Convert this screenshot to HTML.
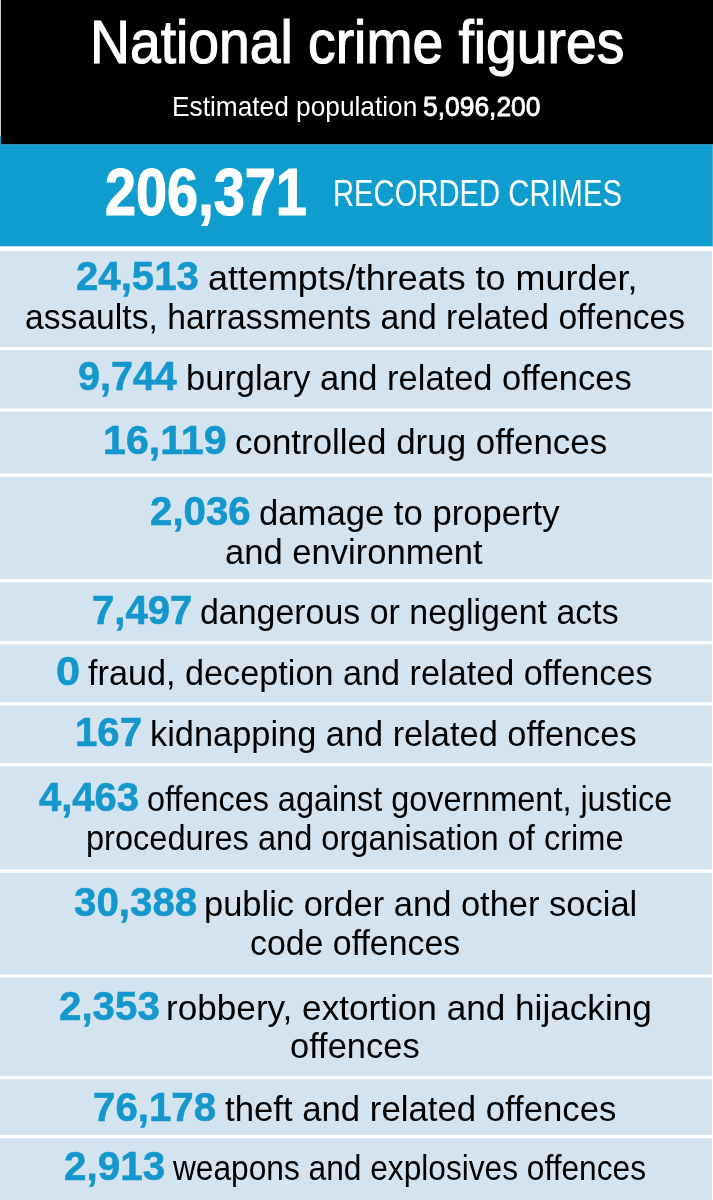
<!DOCTYPE html>
<html><head><meta charset="utf-8"><title>National crime figures</title>
<style>
html,body{margin:0;padding:0;}
body{width:713px;height:1200px;position:relative;overflow:hidden;background:#d3e3f0;font-family:"Liberation Sans",sans-serif;}
svg.bg{position:absolute;left:0;top:0;}
#t{position:absolute;left:0;top:0;width:713px;height:1200px;will-change:transform;}
</style></head><body>
<svg class="bg" width="713" height="1200" viewBox="0 0 713 1200">
<rect x="0" y="0" width="713" height="144.5" fill="#000"/>
<rect x="0" y="0" width="1" height="136" fill="#d0d0d0"/>
<rect x="0" y="136" width="1" height="8.5" fill="#0f9dcf"/>
<rect x="0" y="144.5" width="713" height="102" fill="#0f9dcf"/>
<rect x="0" y="145" width="713" height="1" fill="#0aabd5"/>
<rect x="712" y="144.5" width="1" height="102" fill="#4ab0d8"/>
<rect x="0" y="246.5" width="713" height="4.4" fill="#fff"/>
<rect x="712" y="250" width="1" height="950" fill="#fff"/>
<g fill="#fff">
<rect x="0" y="347" width="713" height="3"/>
<rect x="0" y="408.5" width="713" height="3"/>
<rect x="0" y="473.6" width="713" height="3.1"/>
<rect x="0" y="579" width="713" height="3.3"/>
<rect x="0" y="641.1" width="713" height="3.3"/>
<rect x="0" y="702.2" width="713" height="3.2"/>
<rect x="0" y="763.1" width="713" height="3.2"/>
<rect x="0" y="869.5" width="713" height="3.3"/>
<rect x="0" y="974.4" width="713" height="3.1"/>
<rect x="0" y="1076.1" width="713" height="3.2"/>
<rect x="0" y="1134.8" width="713" height="3.4"/>
</g>
</svg>
<div id="t">
<div style="position:absolute;left:90.38px;top:12.01px;font-size:61px;line-height:61px;font-weight:normal;color:#fff;-webkit-text-stroke:1.2px #fff;white-space:pre;transform-origin:0 0;transform:scaleX(0.9058)">National crime figures</div>
<div style="position:absolute;left:172.12px;top:92.67px;font-size:28px;line-height:28px;font-weight:normal;color:#fff;white-space:pre;transform-origin:0 0;transform:scaleX(0.9380)">Estimated population</div>
<div style="position:absolute;left:423.06px;top:92.89px;font-size:28px;line-height:28px;font-weight:normal;color:#fff;-webkit-text-stroke:0.8px #fff;white-space:pre;transform-origin:0 0;transform:scaleX(0.9431)">5,096,200</div>
<div style="position:absolute;left:105.32px;top:158.94px;font-size:66.5px;line-height:66.5px;font-weight:bold;color:#fff;-webkit-text-stroke:1.2px #fff;white-space:pre;transform-origin:0 0;transform:scaleX(0.8397)">206,371</div>
<div style="position:absolute;left:332.63px;top:174.67px;font-size:37px;line-height:37px;font-weight:normal;color:#fff;white-space:pre;transform-origin:0 0;transform:scaleX(0.7895)">RECORDED CRIMES</div>
<div style="position:absolute;left:76.03px;top:254.57px;font-size:41.5px;line-height:41.5px;font-weight:bold;color:#1497cc;-webkit-text-stroke:0.6px #1497cc;white-space:pre;transform-origin:0 0;transform:scaleX(0.9680)">24,513</div>
<div style="position:absolute;left:207.97px;top:259.67px;font-size:35px;line-height:35px;font-weight:normal;color:#000;white-space:pre;transform-origin:0 0;transform:scaleX(1.0266)">attempts/threats to murder,</div>
<div style="position:absolute;left:25.04px;top:299.17px;font-size:35px;line-height:35px;font-weight:normal;color:#000;white-space:pre;transform-origin:0 0;transform:scaleX(0.9620)">assaults, harrassments and related offences</div>
<div style="position:absolute;left:78.05px;top:355.27px;font-size:41.5px;line-height:41.5px;font-weight:bold;color:#1497cc;-webkit-text-stroke:0.6px #1497cc;white-space:pre;transform-origin:0 0;transform:scaleX(0.9515)">9,744</div>
<div style="position:absolute;left:186.03px;top:360.37px;font-size:35px;line-height:35px;font-weight:normal;color:#000;white-space:pre;transform-origin:0 0;transform:scaleX(0.9844)">burglary and related offences</div>
<div style="position:absolute;left:103.02px;top:418.57px;font-size:41.5px;line-height:41.5px;font-weight:bold;color:#1497cc;-webkit-text-stroke:0.6px #1497cc;white-space:pre;transform-origin:0 0;transform:scaleX(0.9917)">16,119</div>
<div style="position:absolute;left:234.70px;top:423.67px;font-size:35px;line-height:35px;font-weight:normal;color:#000;white-space:pre;transform-origin:0 0;transform:scaleX(0.9981)">controlled drug offences</div>
<div style="position:absolute;left:150.33px;top:489.57px;font-size:41.5px;line-height:41.5px;font-weight:bold;color:#1497cc;-webkit-text-stroke:0.6px #1497cc;white-space:pre;transform-origin:0 0;transform:scaleX(0.9696)">2,036</div>
<div style="position:absolute;left:259.01px;top:494.67px;font-size:35px;line-height:35px;font-weight:normal;color:#000;white-space:pre;transform-origin:0 0;transform:scaleX(0.9901)">damage to property</div>
<div style="position:absolute;left:225.01px;top:533.67px;font-size:35px;line-height:35px;font-weight:normal;color:#000;white-space:pre;transform-origin:0 0;transform:scaleX(0.9885)">and environment</div>
<div style="position:absolute;left:91.63px;top:588.57px;font-size:41.5px;line-height:41.5px;font-weight:bold;color:#1497cc;-webkit-text-stroke:0.6px #1497cc;white-space:pre;transform-origin:0 0;transform:scaleX(0.9663)">7,497</div>
<div style="position:absolute;left:200.33px;top:593.67px;font-size:35px;line-height:35px;font-weight:normal;color:#000;white-space:pre;transform-origin:0 0;transform:scaleX(0.9691)">dangerous or negligent acts</div>
<div style="position:absolute;left:56.16px;top:650.07px;font-size:41.5px;line-height:41.5px;font-weight:bold;color:#1497cc;-webkit-text-stroke:0.6px #1497cc;white-space:pre;transform-origin:0 0;transform:scaleX(1.0429)">0</div>
<div style="position:absolute;left:88.20px;top:655.17px;font-size:35px;line-height:35px;font-weight:normal;color:#000;white-space:pre;transform-origin:0 0;transform:scaleX(0.9780)">fraud, deception and related offences</div>
<div style="position:absolute;left:74.86px;top:710.57px;font-size:41.5px;line-height:41.5px;font-weight:bold;color:#1497cc;-webkit-text-stroke:0.6px #1497cc;white-space:pre;transform-origin:0 0;transform:scaleX(0.9682)">167</div>
<div style="position:absolute;left:149.54px;top:715.67px;font-size:35px;line-height:35px;font-weight:normal;color:#000;white-space:pre;transform-origin:0 0;transform:scaleX(0.9819)">kidnapping and related offences</div>
<div style="position:absolute;left:38.70px;top:775.57px;font-size:41.5px;line-height:41.5px;font-weight:bold;color:#1497cc;-webkit-text-stroke:0.6px #1497cc;white-space:pre;transform-origin:0 0;transform:scaleX(0.9641)">4,463</div>
<div style="position:absolute;left:147.17px;top:780.67px;font-size:35px;line-height:35px;font-weight:normal;color:#000;white-space:pre;transform-origin:0 0;transform:scaleX(0.9255)">offences against government, justice</div>
<div style="position:absolute;left:86.34px;top:819.67px;font-size:35px;line-height:35px;font-weight:normal;color:#000;white-space:pre;transform-origin:0 0;transform:scaleX(0.9303)">procedures and organisation of crime</div>
<div style="position:absolute;left:73.73px;top:880.57px;font-size:41.5px;line-height:41.5px;font-weight:bold;color:#1497cc;-webkit-text-stroke:0.6px #1497cc;white-space:pre;transform-origin:0 0;transform:scaleX(0.9704)">30,388</div>
<div style="position:absolute;left:204.03px;top:885.67px;font-size:35px;line-height:35px;font-weight:normal;color:#000;white-space:pre;transform-origin:0 0;transform:scaleX(0.9853)">public order and other social</div>
<div style="position:absolute;left:250.03px;top:925.17px;font-size:35px;line-height:35px;font-weight:normal;color:#000;white-space:pre;transform-origin:0 0;transform:scaleX(0.9674)">code offences</div>
<div style="position:absolute;left:59.03px;top:984.57px;font-size:41.5px;line-height:41.5px;font-weight:bold;color:#1497cc;-webkit-text-stroke:0.6px #1497cc;white-space:pre;transform-origin:0 0;transform:scaleX(0.9706)">2,353</div>
<div style="position:absolute;left:166.39px;top:989.67px;font-size:35px;line-height:35px;font-weight:normal;color:#000;white-space:pre;transform-origin:0 0;transform:scaleX(1.0042)">robbery, extortion and hijacking</div>
<div style="position:absolute;left:289.62px;top:1027.67px;font-size:35px;line-height:35px;font-weight:normal;color:#000;white-space:pre;transform-origin:0 0;transform:scaleX(0.9846)">offences</div>
<div style="position:absolute;left:93.33px;top:1085.57px;font-size:41.5px;line-height:41.5px;font-weight:bold;color:#1497cc;-webkit-text-stroke:0.6px #1497cc;white-space:pre;transform-origin:0 0;transform:scaleX(0.9696)">76,178</div>
<div style="position:absolute;left:225.00px;top:1090.67px;font-size:35px;line-height:35px;font-weight:normal;color:#000;white-space:pre;transform-origin:0 0;transform:scaleX(0.9924)">theft and related offences</div>
<div style="position:absolute;left:63.63px;top:1144.57px;font-size:41.5px;line-height:41.5px;font-weight:bold;color:#1497cc;-webkit-text-stroke:0.6px #1497cc;white-space:pre;transform-origin:0 0;transform:scaleX(0.9745)">2,913</div>
<div style="position:absolute;left:173.40px;top:1149.67px;font-size:35px;line-height:35px;font-weight:normal;color:#000;white-space:pre;transform-origin:0 0;transform:scaleX(0.9048)">weapons and explosives offences</div>
</div>
</body></html>
